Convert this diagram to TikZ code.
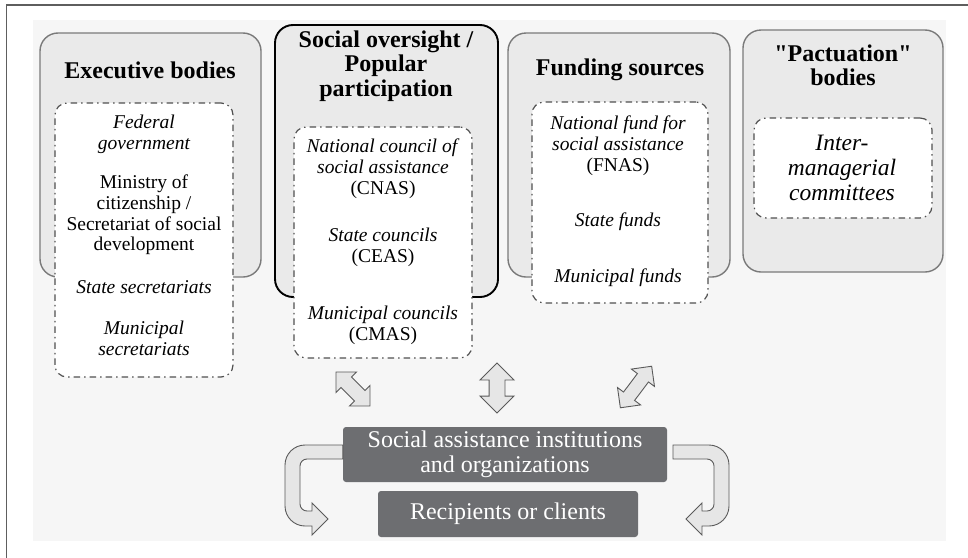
\documentclass[tikz,border=0pt]{standalone}
\usepackage{fontspec}
\setmainfont{Liberation Serif}[Ligatures=TeXOff]
\usetikzlibrary{shapes.arrows}
\definecolor{panel}{HTML}{F6F6F6}
\definecolor{boxfill}{HTML}{EAEAEA}
\definecolor{boxline}{HTML}{7A7A7A}
\definecolor{darkfill}{HTML}{6D6E71}
\definecolor{arrowfill}{HTML}{E6E6E6}
\definecolor{arrowline}{HTML}{5A5A5A}
\definecolor{dashline}{HTML}{505050}
\definecolor{frameline}{HTML}{5E5E5E}
\tikzset{
 outerbox/.style={draw=boxline, line width=1.4pt, fill=boxfill, rounded corners=18pt, inner sep=0pt},
 innerbox/.style={draw=dashline, line width=1.2pt, fill=white, rounded corners=12pt, dash pattern=on 6.5pt off 4pt on 1.5pt off 4pt, inner sep=0pt},
 titletext/.style={font=\fontsize{24}{24.5}\selectfont\bfseries, align=center, inner sep=0pt},
 itext/.style={font=\fontsize{19.5}{20.8}\selectfont\itshape, align=center, inner sep=0pt},
 rtext/.style={font=\fontsize{19.5}{20.8}\selectfont, align=center, inner sep=0pt},
 darkbox/.style={fill=darkfill, rounded corners=3pt, text=white, font=\fontsize{24}{25}\selectfont, align=center, inner sep=0pt},
 dblarrow/.style={shape=double arrow, draw=arrowline, fill=arrowfill, line width=0.9pt, double arrow head indent=0pt},
 blockarrow/.style={draw=arrowline, fill=arrowfill, line width=0.9pt, line join=miter},
}
\begin{document}
\begin{tikzpicture}[x=1pt,y=-1pt]
\useasboundingbox (0,0) rectangle (968,557);
\fill[panel] (33,20) rectangle (946,541);
\draw[line width=1.6pt, frameline] (6.5,560) -- (6.5,5) -- (970,5);

% Executive bodies
\node[outerbox, minimum width=221pt, minimum height=244pt] (execout) at (150.5,155) {};
\node[titletext] (exectitle) at (150,70) {Executive bodies};
\node[innerbox, minimum width=178pt, minimum height=274pt] (execin) at (144,240) {};
\node[itext] (federal) at (144,134.5) {Federal\\government};
\node[rtext] (ministry) at (144,215) {Ministry of\\citizenship /\\Secretariat of social\\development};
\node[itext] (statesec) at (144,287) {State secretariats};
\node[itext] (munsec) at (144,338.5) {Municipal\\secretariats};

% Social oversight
\node[outerbox, draw=black, line width=1.9pt, minimum width=223pt, minimum height=272pt] (socout) at (386.5,161) {};
\node[titletext] (soctitle) at (386,66) {Social oversight /\\Popular\\participation};
\node[innerbox, minimum width=178pt, minimum height=231pt] (socin) at (383,242.5) {};
\node[rtext] (cnas) at (383,169) {\textit{National council of}\\\textit{social assistance}\\(CNAS)};
\node[rtext] (ceas) at (383,247.5) {\textit{State councils}\\(CEAS)};
\node[rtext] (cmas) at (383,325) {\textit{Municipal councils}\\(CMAS)};

% Funding sources
\node[outerbox, minimum width=222pt, minimum height=244pt] (fundout) at (619,155) {};
\node[titletext] (fundtitle) at (620,70) {Funding sources};
\node[innerbox, minimum width=176pt, minimum height=201pt] (fundin) at (620,202.5) {};
\node[rtext] (fnas) at (618,146) {\textit{National fund for}\\\textit{social assistance}\\(FNAS)};
\node[itext] (statefunds) at (618,222) {State funds};
\node[itext] (munfunds) at (618,278) {Municipal funds};

% Pactuation bodies
\node[outerbox, minimum width=200pt, minimum height=242pt] (pactout) at (843,151) {};
\node[titletext] (pacttitle) at (843,65.5) {"Pactuation"\\bodies};
\node[innerbox, minimum width=178pt, minimum height=100pt] (pactin) at (843,168) {};
\node[itext, font=\fontsize{23.5}{25}\selectfont\itshape] (inter) at (842,168) {Inter-\\managerial\\committees};

% Bottom boxes
\node[darkbox, minimum width=324pt, minimum height=55pt] (inst) at (505,454.5) {Social assistance institutions\\and organizations};
\node[darkbox, minimum width=260pt, minimum height=46pt] (recip) at (508,514) {Recipients or clients};

% Double arrows
\node[dblarrow, rotate=-45, minimum height=48pt, minimum width=28pt, inner sep=7pt, double arrow head extend=7pt] (arrA) at (353,389) {};
\node[dblarrow, rotate=90, minimum height=50pt, minimum width=33pt, inner sep=7.5pt, double arrow head extend=9pt] (arrB) at (497,388) {};
\node[dblarrow, rotate=53, minimum height=52pt, minimum width=28pt, inner sep=6.5pt, double arrow head extend=7.5pt] (arrC) at (636,387) {};

% U-turn arrows
\draw[blockarrow] (inst.west |- 0,445) -- (305,445) .. controls (294,445) and (285,454) .. (285,465) -- (285,506) .. controls (285,517) and (294,526) .. (305,526) -- (312,526) -- (312,535) -- (328,519) -- (312,503) -- (312,511) -- (307,511) .. controls (303.1,511) and (300,507.9) .. (300,504) -- (300,466) .. controls (300,462.1) and (303.1,459) .. (307,459) -- (inst.west |- 0,459) -- cycle;
\draw[blockarrow] (673,445) -- (709,445) .. controls (720,445) and (729,454) .. (729,465) -- (729,506) .. controls (729,517) and (720,526) .. (709,526) -- (702,526) -- (702,535) -- (686,519) -- (702,503) -- (702,511) -- (707,511) .. controls (710.9,511) and (714,507.9) .. (714,504) -- (714,466) .. controls (714,462.1) and (710.9,459) .. (707,459) -- (673,459) -- cycle;
\end{tikzpicture}
\end{document}
